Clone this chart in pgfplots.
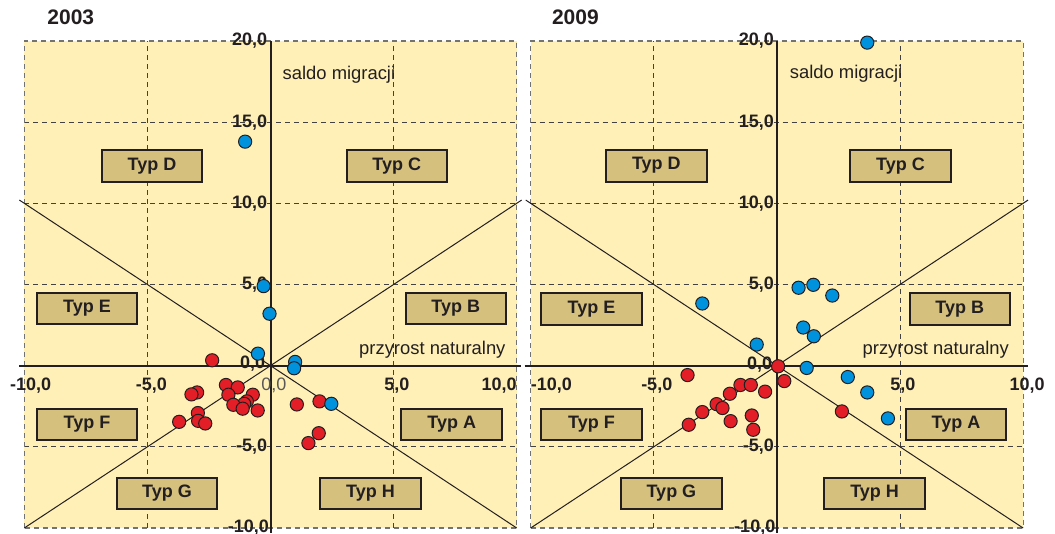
\documentclass[border=0pt]{standalone}
\usepackage{pgfplots}
\pgfplotsset{compat=1.18}
\usepackage{fontspec}
\setmainfont{Liberation Sans}
\definecolor{bg}{RGB}{254,240,182}
\definecolor{boxc}{RGB}{213,192,126}
\definecolor{dk}{RGB}{35,31,32}
\definecolor{bl}{RGB}{0,146,221}
\definecolor{rd}{RGB}{228,30,38}
\tikzset{
  gridd/.style={dash pattern=on 2.5pt off 2pt, line width=0.5pt, draw=dk!85},
  bord/.style={dash pattern=on 2.5pt off 2pt, line width=0.6pt, draw=black!55},
  tl/.style={font=\fontsize{9}{10}\selectfont\bfseries, text=dk, inner sep=0pt},
  axt/.style={font=\fontsize{9.2}{10}\selectfont, text=dk, inner sep=0pt},
}
\newcommand{\typbox}[5]{%
  \draw[fill=boxc, draw=dk, line width=1pt] (axis cs:#1,#2) rectangle (axis cs:#3,#4);
  \node[font=\fontsize{9}{10}\selectfont\bfseries, text=dk] at (axis cs:{(#1+#3)/2},{(#2+#4)/2}) {#5};}
\newcommand{\panelbg}{%
  \fill[bg] (axis cs:-10,-10) rectangle (axis cs:10,20);
  \draw[gridd] (axis cs:-5,-10) -- (axis cs:-5,20);
  \draw[gridd] (axis cs:5,-10) -- (axis cs:5,20);
  \draw[gridd] (axis cs:-10,-5) -- (axis cs:10,-5);
  \draw[gridd] (axis cs:-10,5) -- (axis cs:10,5);
  \draw[gridd] (axis cs:-10,10) -- (axis cs:10,10);
  \draw[gridd] (axis cs:-10,15) -- (axis cs:10,15);
  \draw[bord] (axis cs:-10,-10) -- (axis cs:-10,20) -- (axis cs:10,20) -- (axis cs:10,-10) -- cycle;
  \draw[line width=0.5pt, dk] (axis cs:-10.2,10.2) -- (axis cs:10,-10);
  \draw[line width=0.5pt, dk] (axis cs:-10,-10) -- (axis cs:10.2,10.2);
  \draw[line width=1pt, dk] (axis cs:0,20) -- (axis cs:0,-10.3);
}
\pgfplotsset{panel/.style={
  scale only axis, width=246.2pt, height=243.5pt,
  xmin=-10, xmax=10, ymin=-10, ymax=20, hide axis, clip=false,
  anchor=south west}}
\begin{document}
\begin{tikzpicture}
\path[use as bounding box] (0,0) rectangle (527.5pt,267pt);
\node[anchor=west, font=\fontsize{10.5}{12}\selectfont\bfseries, text=dk, inner sep=0pt] at (23.5pt,258.5pt) {2003};
\node[anchor=west, font=\fontsize{10.5}{12}\selectfont\bfseries, text=dk, inner sep=0pt] at (275.8pt,258.5pt) {2009};
% ---------------- 2003 ----------------
\begin{axis}[panel, at={(12.15pt,3pt)}]
\panelbg
\draw[line width=1pt, dk] (axis cs:-10.2,0) -- (axis cs:10.0,0);
\draw[line width=1pt, dk, dash pattern=on 2pt off 1.5pt] (axis cs:10.0,0) -- (axis cs:10.25,0);
\typbox{-6.86}{11.3}{-2.77}{13.26}{Typ D}
\typbox{3.09}{11.3}{7.16}{13.26}{Typ C}
\typbox{-9.49}{2.54}{-5.42}{4.49}{Typ E}
\typbox{5.49}{2.54}{9.56}{4.49}{Typ B}
\typbox{-9.49}{-4.58}{-5.42}{-2.68}{Typ F}
\typbox{5.32}{-4.58}{9.41}{-2.68}{Typ A}
\typbox{-6.24}{-8.8}{-2.17}{-6.89}{Typ G}
\typbox{2.02}{-8.8}{6.1}{-6.89}{Typ H}
\node[axt, anchor=west] at (axis cs:0.48,17.9) {saldo migracji};
\node[axt, anchor=east] at (axis cs:9.56,0.95) {przyrost naturalny};
\node[tl, anchor=east] at (axis cs:-0.12,20) {20,0};
\node[tl, anchor=east] at (axis cs:-0.12,15) {15,0};
\node[tl, anchor=east] at (axis cs:-0.12,10) {10,0};
\node[tl, anchor=east] at (axis cs:-0.12,5) {5,0};
\node[tl, anchor=east] at (axis cs:-0.2,0.12) {0,0};
\node[tl, anchor=east] at (axis cs:-0.12,-5) {-5,0};
\node[tl, anchor=east] at (axis cs:-0.05,-10) {-10,0};
\node[tl] at (axis cs:-9.74,-1.24) {-10,0};
\node[tl] at (axis cs:-4.84,-1.24) {-5,0};
\node[font=\fontsize{9}{10}\selectfont, text=dk!75, inner sep=0pt] at (axis cs:0.14,-1.24) {0,0};
\node[tl] at (axis cs:5.13,-1.24) {5,0};
\node[tl] at (axis cs:9.29,-1.24) {10,0};
\addplot[only marks, mark=*, mark size=3.3pt, mark options={fill=rd, draw=dk, line width=0.5pt}] coordinates {
(-2.37,0.33) (-1.81,-1.19) (-1.33,-1.34) (-2.98,-1.65) (-3.21,-1.77)
(-1.71,-1.79) (-0.72,-1.79) (-0.96,-2.2) (-1.07,-2.35) (-1.51,-2.41)
(-1.13,-2.65) (-0.52,-2.76) (-2.95,-2.92) (-2.94,-3.4) (-2.65,-3.56)
(-3.71,-3.46) (1.07,-2.39) (1.99,-2.2) (1.96,-4.16) (1.54,-4.77)
};
\addplot[only marks, mark=*, mark size=3.3pt, mark options={fill=bl, draw=dk, line width=0.5pt}] coordinates {
(-1.03,13.8) (-0.28,4.9) (-0.04,3.2) (-0.51,0.74) (1.0,0.23) (0.96,-0.16) (2.47,-2.35)
};
\end{axis}
% ---------------- 2009 ----------------
\begin{axis}[panel, at={(265.35pt,3pt)}]
\panelbg
\draw[line width=1pt, dk] (axis cs:-10.25,0) -- (axis cs:10.2,0);
\typbox{-6.94}{11.34}{-2.85}{13.3}{Typ D}
\typbox{2.98}{11.34}{7.06}{13.3}{Typ C}
\typbox{-9.57}{2.5}{-5.49}{4.45}{Typ E}
\typbox{5.39}{2.5}{9.47}{4.45}{Typ B}
\typbox{-9.57}{-4.58}{-5.49}{-2.68}{Typ F}
\typbox{5.24}{-4.58}{9.31}{-2.68}{Typ A}
\typbox{-6.32}{-8.8}{-2.25}{-6.89}{Typ G}
\typbox{1.93}{-8.8}{6.01}{-6.89}{Typ H}
\node[axt, anchor=west] at (axis cs:0.51,18.0) {saldo migracji};
\node[axt, anchor=east] at (axis cs:9.44,0.95) {przyrost naturalny};
\node[tl, anchor=east] at (axis cs:-0.11,20) {20,0};
\node[tl, anchor=east] at (axis cs:-0.11,15) {15,0};
\node[tl, anchor=east] at (axis cs:-0.11,10) {10,0};
\node[tl, anchor=east] at (axis cs:-0.11,5) {5,0};
\node[tl, anchor=east] at (axis cs:-0.18,0.05) {0,0};
\node[tl, anchor=east] at (axis cs:-0.11,-5) {-5,0};
\node[tl, anchor=east] at (axis cs:-0.05,-10) {-10,0};
\node[tl] at (axis cs:-9.16,-1.24) {-10,0};
\node[tl] at (axis cs:-4.88,-1.24) {-5,0};
\node[tl] at (axis cs:5.12,-1.24) {5,0};
\node[tl] at (axis cs:10.16,-1.24) {10,0};
\addplot[only marks, mark=*, mark size=3.3pt, mark options={fill=rd, draw=dk, line width=0.5pt}] coordinates {
(0.05,-0.04) (0.3,-0.95) (-3.63,-0.58) (-1.48,-1.19) (-1.06,-1.19)
(-0.48,-1.6) (-1.91,-1.73) (-2.45,-2.37) (-2.21,-2.61) (-3.03,-2.86)
(-1.02,-3.07) (-1.88,-3.42) (-3.58,-3.64) (-0.96,-3.95) (2.64,-2.82)
};
\addplot[only marks, mark=*, mark size=3.3pt, mark options={fill=bl, draw=dk, line width=0.5pt}] coordinates {
(3.67,19.9) (0.88,4.8) (1.48,4.98) (2.25,4.32) (-3.03,3.83) (1.07,2.35)
(1.5,1.81) (-0.82,1.3) (1.21,-0.14) (2.88,-0.7) (3.67,-1.65) (4.51,-3.25)
};
\end{axis}
\end{tikzpicture}
\end{document}
